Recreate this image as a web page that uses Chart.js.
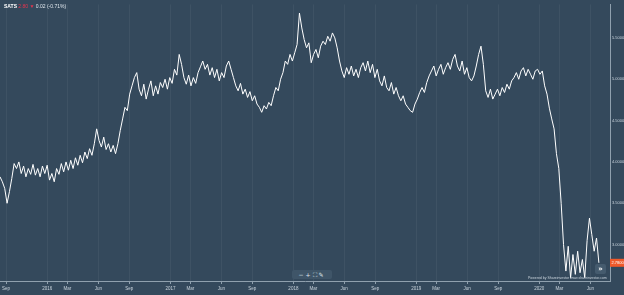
<!DOCTYPE html>
<html><head><meta charset="utf-8">
<script src="https://cdn.jsdelivr.net/npm/chart.js@4"></script>
<style>
html,body{margin:0;padding:0;background:#34495c;overflow:hidden}
#wrap{position:relative;width:624px;height:295px}
canvas{position:absolute;left:0;top:0}
.hdr{position:absolute;left:4px;top:3px;font:bold 5px "Liberation Sans",Arial,sans-serif;color:#fff;white-space:nowrap}
.hdr .r{color:#e8344e;font-weight:normal}
.hdr .w{color:#dfe6ec;font-weight:normal}
.ctl{position:absolute;left:292px;top:270px;width:40px;height:9px;background:#3f5568;border-radius:2px;font:6px "DejaVu Sans",sans-serif;color:#dfe6ec;text-align:center;line-height:9px;letter-spacing:2px}
.pw{position:absolute;left:528px;top:276px;font:3.5px "Liberation Sans",Arial,sans-serif;color:#c9d3dc;white-space:nowrap}
.ff{position:absolute;left:595px;top:264px;width:11px;height:10px;background:#455b6e;border-radius:2px;color:#fff;font:bold 7px "DejaVu Sans",sans-serif;text-align:center;line-height:10px}
</style></head>
<body><div id="wrap"><canvas id="c" width="624" height="295"></canvas>
<div class="hdr">SATS <span class="r">2.80 ▼</span> <span class="w">0.02 (-0.71%)</span></div>
<div class="ctl">−+⛶✎</div>
<div class="ff">»</div>
<div class="pw">Powered by Shareinvestor www.shareinvestor.com</div>
</div>
<script>
const startDate = '2015-08-14';
const stepDays = 7;
const prices = [
3.82,3.76,3.68,3.50,3.64,3.80,3.98,3.92,4.00,3.86,
3.95,3.82,3.92,3.85,3.97,3.84,3.92,3.82,3.95,3.86,
3.96,3.78,3.86,3.76,3.92,3.85,3.98,3.88,4.00,3.90,
4.02,3.92,4.05,3.96,4.08,3.99,4.12,4.04,4.16,4.08,
4.22,4.40,4.26,4.18,4.30,4.15,4.22,4.12,4.20,4.10,
4.22,4.38,4.52,4.66,4.62,4.82,4.92,5.02,5.08,4.88,
4.80,4.94,4.76,4.88,4.98,4.80,4.92,4.82,4.96,4.90,
5.00,4.88,5.02,4.95,5.12,5.05,5.30,5.18,5.02,4.94,
5.05,4.92,5.02,4.95,5.08,5.15,5.22,5.12,5.18,5.05,
5.14,5.02,5.12,4.98,5.08,5.02,5.16,5.22,5.12,5.02,
4.92,4.86,4.95,4.82,4.88,4.78,4.85,4.74,4.80,4.70,
4.66,4.60,4.68,4.64,4.72,4.68,4.80,4.90,4.86,5.00,
5.08,5.22,5.18,5.30,5.22,5.32,5.42,5.80,5.62,5.48,
5.38,5.44,5.20,5.30,5.36,5.26,5.40,5.46,5.42,5.52,
5.46,5.56,5.50,5.38,5.22,5.10,5.02,5.14,5.06,5.16,
5.04,5.12,5.02,5.14,5.20,5.10,5.22,5.08,5.18,5.02,
5.12,4.98,4.92,5.04,4.90,4.86,4.96,4.82,4.90,4.80,
4.74,4.80,4.70,4.66,4.62,4.60,4.70,4.76,4.84,4.90,
4.84,4.96,5.04,5.10,5.16,5.04,5.12,5.18,5.06,5.14,
5.20,5.12,5.24,5.30,5.16,5.10,5.22,5.06,5.14,5.02,
4.98,5.04,5.16,5.30,5.40,5.18,4.86,4.78,4.88,4.76,
4.82,4.88,4.80,4.90,4.84,4.94,4.88,4.98,5.02,5.08,
5.00,5.10,5.14,5.04,5.12,5.06,5.00,5.10,5.12,5.06,
5.10,4.92,4.82,4.65,4.52,4.40,4.10,3.92,3.50,3.00,
2.68,2.98,2.60,2.88,2.64,2.92,2.66,2.82,2.60,3.05,
3.32,3.12,2.92,3.08,2.78
];
const tickLabels = ['Sep','2016','Mar','Jun','Sep','2017','Mar','Jun','Sep','2018','Mar','Jun','Sep','2019','Mar','Jun','Sep','2020','Mar','Jun'];
const tickDates = ['2015-09-01','2016-01-01','2016-03-01','2016-06-01','2016-09-01','2017-01-01','2017-03-01','2017-06-01','2017-09-01','2018-01-01','2018-03-01','2018-06-01','2018-09-01','2019-01-01','2019-03-01','2019-06-01','2019-09-01','2020-01-01','2020-03-01','2020-06-01'];
const yTicks = [3.0,3.5,4.0,4.5,5.0,5.5];

const DAY = 86400000;
const t0 = Date.parse(startDate);
const dayOf = s => (Date.parse(s) - t0) / DAY;
const points = prices.map((p,i)=>({x:i*stepDays, y:p}));
const tickDays = tickDates.map(dayOf);
const lastPrice = prices[prices.length-1];

const tagPlugin = {
  id:'tag',
  afterDraw(chart){
    const {ctx, chartArea} = chart;
    const y = chart.scales.y.getPixelForValue(lastPrice);
    ctx.save();
    ctx.fillStyle = '#f0592a';
    ctx.fillRect(chartArea.right, y-4, 14, 8);
    ctx.fillStyle = '#fff';
    ctx.font = '4px "Liberation Sans", Arial, sans-serif';
    ctx.textBaseline = 'middle';
    ctx.fillText(lastPrice.toFixed(4), chartArea.right+1.5, y);
    ctx.restore();
  }
};

new Chart(document.getElementById('c'), {
  type:'line',
  data:{datasets:[{data:points, borderColor:'#ffffff', borderWidth:1, pointRadius:0, tension:0, fill:false}]},
  options:{
    responsive:false, animation:false, events:[],
    layout:{padding:0},
    plugins:{legend:{display:false}, tooltip:{enabled:false}},
    scales:{
      x:{type:'linear', min:0, max:1811,
        afterBuildTicks(s){ s.ticks = tickDays.map(v=>({value:v})); },
        afterFit(s){ s.height = 14; },
        ticks:{color:'#c9d3dc', font:{size:4.5, family:'"Liberation Sans", Arial, sans-serif'}, maxRotation:0, autoSkip:false, padding:2,
          callback:(v,i)=>tickLabels[i]},
        grid:{color:'rgba(255,255,255,0.05)', tickColor:'#8fa0ae', tickLength:3},
        border:{color:'#8fa0ae', width:1}
      },
      y:{type:'linear', position:'right', min:2.56, max:5.905,
        afterBuildTicks(s){ s.ticks = yTicks.map(v=>({value:v})); },
        afterFit(s){ s.width = 14; },
        ticks:{color:'#c9d3dc', font:{size:4, family:'"Liberation Sans", Arial, sans-serif'}, padding:2,
          callback:v=>Number(v).toFixed(4)},
        grid:{display:false, drawOnChartArea:false, tickLength:0},
        border:{color:'#8fa0ae', width:1}
      }
    }
  },
  plugins:[tagPlugin]
});
</script>
</body></html>
